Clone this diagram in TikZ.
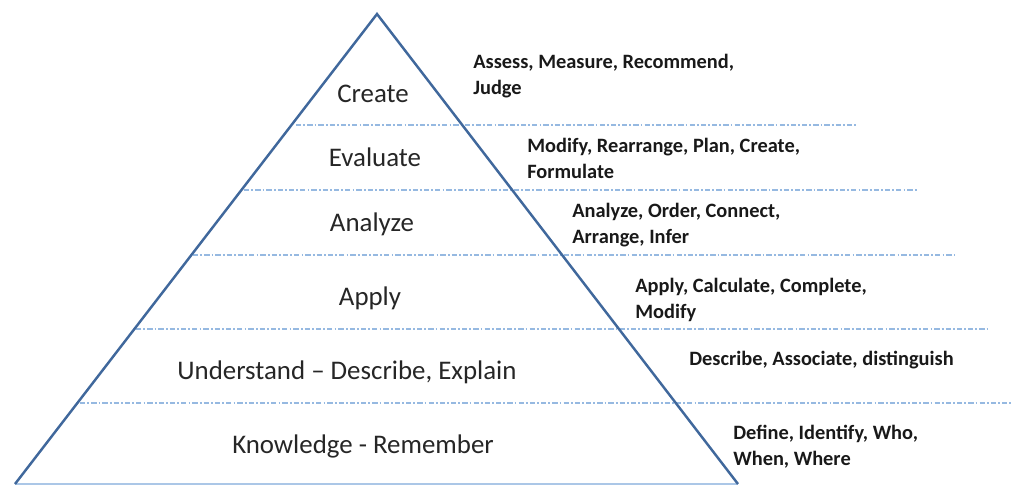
\documentclass[tikz,border=0pt]{standalone}
\usepackage{fontspec}
\setmainfont{Carlito}
\definecolor{edge}{RGB}{64,104,156}
\definecolor{level}{RGB}{150,185,225}

\begin{document}
\begin{tikzpicture}[x=0.02cm, y=-0.02cm,
  stage/.style={font=\fontsize{15.3}{18}\selectfont, text=black!85, inner sep=0pt, anchor=base},
  verbs/.style={font=\bfseries\fontsize{11.6}{14.7}\selectfont, text=black!90, align=left, inner sep=0pt, anchor=base west},
  tier/.style={color=level, line width=0.8pt, dash pattern=on 3pt off 1.2pt on 1pt off 1.2pt}]
\useasboundingbox (0,0) rectangle (1011,485);
\coordinate (bl) at (15,484);
\coordinate (apex) at (377,14);
\coordinate (br) at (738,484);
% level lines
\foreach \xs/\y/\xe in {296/125/857, 244/190/918, 193/255/955, 136/329/988, 80/403/1011}
  \draw[tier] (\xs,\y) -- (\xe,\y);
\draw[-, color=level!80, line width=0.6pt] (bl) -- (br);
\draw[-, color=edge, line width=1.4pt] (bl) -- (apex) -- (br);
% levels
\node[stage] (create) at (373,102) {Create};
\node[stage] (evaluate) at (375,166) {Evaluate};
\node[stage] (analyze) at (372,231) {Analyze};
\node[stage] (apply) at (370,305) {Apply};
\node[stage] (understand) at (347,379) {Understand -- Describe, Explain};
\node[stage] (knowledge) at (363,453) {Knowledge - Remember};
% verbs (base = last line)
\node[verbs] (createverbs) at (473,94) {Assess, Measure, Recommend,\\Judge};
\node[verbs] (evaluateverbs) at (527,178) {Modify, Rearrange, Plan, Create,\\Formulate};
\node[verbs] (analyzeverbs) at (572,243) {Analyze, Order, Connect,\\Arrange, Infer};
\node[verbs] (applyverbs) at (635,318) {Apply, Calculate, Complete,\\Modify};
\node[verbs] (understandverbs) at (689,365) {Describe, Associate, distinguish};
\node[verbs] (knowledgeverbs) at (733,465) {Define, Identify, Who,\\When, Where};
\end{tikzpicture}
\end{document}
